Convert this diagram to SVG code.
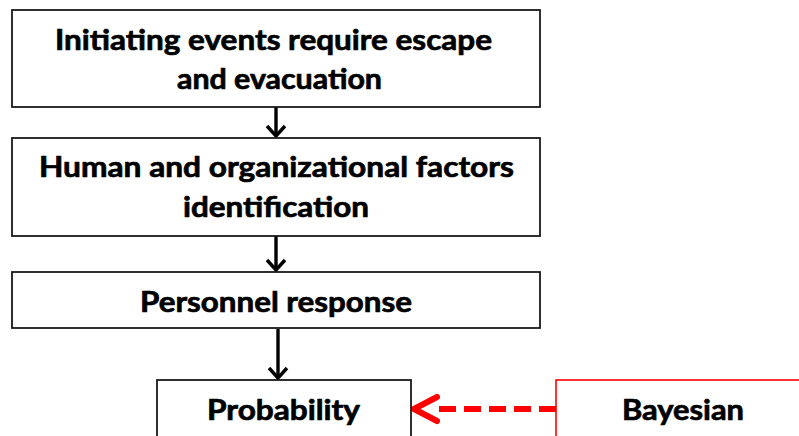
<svg xmlns="http://www.w3.org/2000/svg" width="799" height="436" viewBox="0 0 799 436">
  <style>
    .box { fill: #ffffff; stroke: #1a1a1a; stroke-width: 1.8; }
    .box-red { fill: #ffffff; stroke: #ff0000; stroke-width: 1.6; }
    .lbl { font-family: Lato, "Open Sans", "Liberation Sans", sans-serif; font-weight: bold; font-size: 29px; fill: #000000; stroke: #000000; stroke-width: 0.7; stroke-linejoin: round; }
    .flow { stroke: #000000; stroke-width: 3.4; fill: none; }
    .feed { stroke: #ff0000; stroke-width: 6; fill: none; stroke-dasharray: 17 8; }
    .head-red { stroke: #ff0000; stroke-width: 6; fill: none; stroke-linecap: round; stroke-linejoin: round; }
  </style>
  <defs>
    <marker id="arrow" markerUnits="userSpaceOnUse" viewBox="-14 -12 16 24" markerWidth="16" markerHeight="24" refX="0" refY="0" orient="auto">
      <path d="M-10,-9 L0,0 L-10,9" fill="none" stroke="#000000" stroke-width="3.4"/>
    </marker>
  </defs>

  <rect width="799" height="436" fill="#ffffff"/>

  <g id="connectors">
    <line class="flow" x1="276" y1="107" x2="276" y2="136" marker-end="url(#arrow)"/>
    <line class="flow" x1="276" y1="236" x2="276" y2="270" marker-end="url(#arrow)"/>
    <line class="flow" x1="278" y1="329" x2="278" y2="378" marker-end="url(#arrow)"/>
    <line class="feed" x1="556" y1="409" x2="436" y2="409"/>
    <path class="head-red" d="M437,397 L414,409 L437,421"/>
  </g>

  <g id="node-initiating">
    <rect class="box" x="12" y="10" width="528" height="97"/>
    <text class="lbl" x="55" y="50" textLength="437" lengthAdjust="spacingAndGlyphs">Initiating events require escape</text>
    <text class="lbl" x="177" y="89" textLength="205" lengthAdjust="spacingAndGlyphs">and evacuation</text>
  </g>

  <g id="node-factors">
    <rect class="box" x="12" y="138" width="528" height="98"/>
    <text class="lbl" x="39" y="177" textLength="475" lengthAdjust="spacingAndGlyphs">Human and organizational factors</text>
    <text class="lbl" x="183" y="217" textLength="186" lengthAdjust="spacingAndGlyphs">identification</text>
  </g>

  <g id="node-response">
    <rect class="box" x="12" y="272" width="528" height="56"/>
    <text class="lbl" x="140" y="312" textLength="272" lengthAdjust="spacingAndGlyphs">Personnel response</text>
  </g>

  <g id="node-probability">
    <rect class="box" x="157" y="380" width="254" height="70"/>
    <text class="lbl" x="207" y="420" textLength="153" lengthAdjust="spacingAndGlyphs">Probability</text>
  </g>

  <g id="node-bayesian">
    <rect class="box-red" x="556" y="380" width="260" height="70"/>
    <text class="lbl" x="622" y="420" textLength="122" lengthAdjust="spacingAndGlyphs">Bayesian</text>
  </g>
</svg>
